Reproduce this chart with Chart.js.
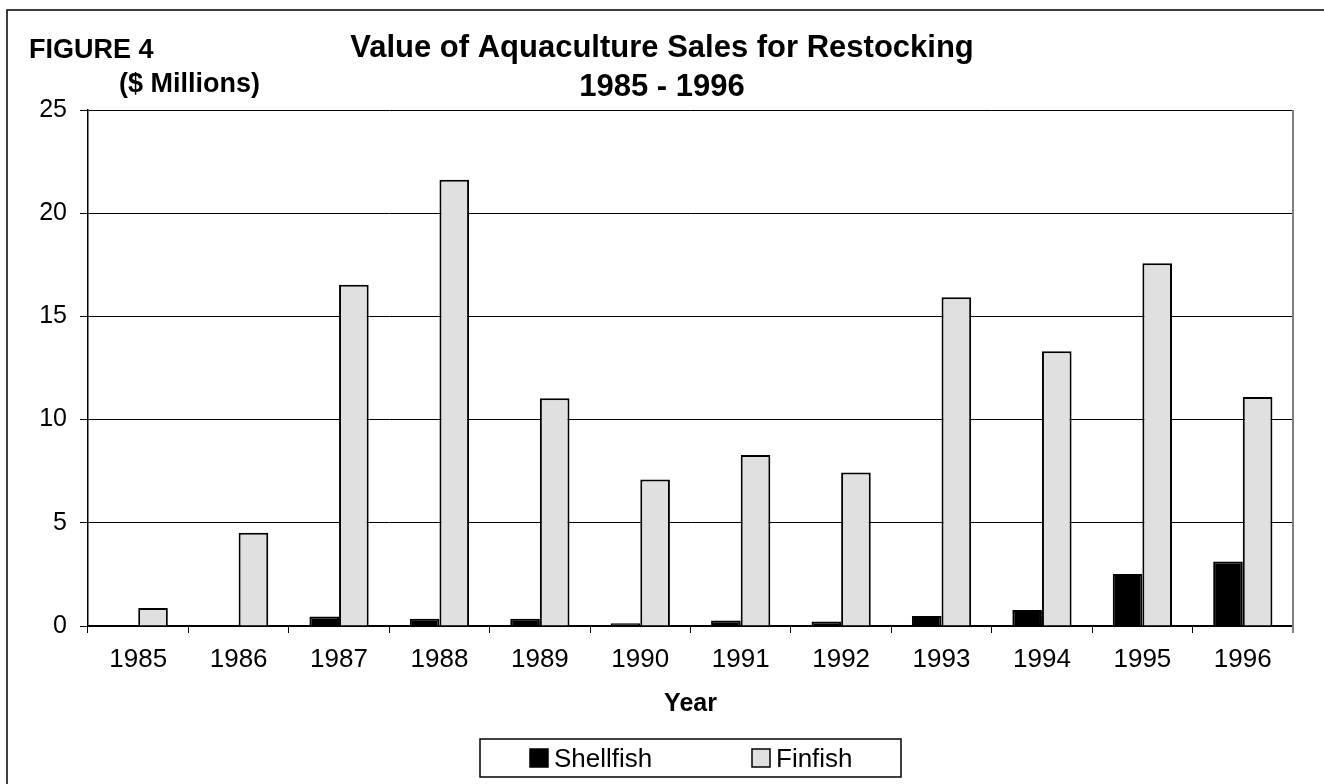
<!DOCTYPE html>
<html>
<head>
<meta charset="utf-8">
<title>Value of Aquaculture Sales for Restocking</title>
<script src="https://cdn.jsdelivr.net/npm/chart.js@4/dist/chart.umd.min.js"></script>
<style>
  html, body { margin: 0; padding: 0; background: #fff; }
  #wrap { width: 1324px; height: 784px; }
</style>
</head>
<body>
<div id="wrap"><canvas id="chart" width="1324" height="784"></canvas></div>
<script>
/* Dados ($ milhões) */
const years = ['1985','1986','1987','1988','1989','1990','1991','1992','1993','1994','1995','1996'];
const shellfish = [0, 0, 0.46, 0.35, 0.35, 0.13, 0.27, 0.22, 0.48, 0.77, 2.52, 3.13];
const finfish = [0.87, 4.52, 16.53, 21.62, 11.04, 7.10, 8.29, 7.44, 15.93, 13.31, 17.58, 11.09];
const yTicks = [0, 5, 10, 15, 20, 25];

const FONT = "'Liberation Sans', Arial, sans-serif";

/* Moldura externa, títulos, borda direita e legenda em caixa */
const decor = {
  id: 'decor',
  beforeDraw(chart) {
    const c = chart.ctx;
    c.save();
    c.fillStyle = '#fff';
    c.fillRect(0, 0, chart.width, chart.height);
    c.strokeStyle = '#000';
    c.lineWidth = 1.5;
    c.beginPath();
    c.moveTo(7, chart.height);
    c.lineTo(7, 10);
    c.lineTo(chart.width, 10);
    c.stroke();
    c.restore();
  },
  afterDraw(chart) {
    const c = chart.ctx;
    const a = chart.chartArea;
    c.save();
    // borda direita da área do gráfico (cinza)
    c.strokeStyle = '#808080';
    c.lineWidth = 2;
    c.beginPath();
    c.moveTo(a.right, a.top);
    c.lineTo(a.right, a.bottom + 7);
    c.stroke();

    c.fillStyle = '#000';
    c.textBaseline = 'alphabetic';
    c.font = 'bold 27px ' + FONT;
    c.textAlign = 'left';
    c.fillText('FIGURE 4', 29, 58);
    c.fillText('($ Millions)', 119, 92);

    c.font = 'bold 31px ' + FONT;
    c.textAlign = 'center';
    c.fillText('Value of Aquaculture Sales for Restocking', 662, 57);
    c.fillText('1985 - 1996', 662, 96);

    // legenda
    const cx = (a.left + a.right) / 2;
    const boxW = 421, boxTop = 739, boxH = 38;
    const bx = Math.round(cx - boxW / 2);
    c.strokeStyle = '#000';
    c.lineWidth = 1.5;
    c.strokeRect(bx, boxTop, boxW, boxH);
    c.font = '26px ' + FONT;
    c.textAlign = 'left';
    const itemX = [bx + 50, bx + 272];
    chart.data.datasets.forEach((ds, i) => {
      const x = itemX[i];
      c.fillStyle = ds.backgroundColor;
      c.fillRect(x, 749, 18, 18);
      c.strokeStyle = '#000';
      c.lineWidth = 1.5;
      c.strokeRect(x, 749, 18, 18);
      c.fillStyle = '#000';
      c.fillText(ds.label, x + 24, 767);
    });
    c.restore();
  }
};

const ctx = document.getElementById('chart').getContext('2d');
new Chart(ctx, {
  type: 'bar',
  data: {
    labels: years,
    datasets: [
      { label: 'Shellfish', data: shellfish, backgroundColor: '#000000', borderColor: '#000', borderWidth: 2 },
      { label: 'Finfish', data: finfish, backgroundColor: '#e0e0e0', borderColor: '#000', borderWidth: 2 }
    ]
  },
  options: {
    responsive: false,
    devicePixelRatio: 1,
    animation: false,
    categoryPercentage: 0.59,
    barPercentage: 1.0,
    layout: { padding: { left: 0, right: 31, top: 110, bottom: 65 } },
    plugins: {
      legend: { display: false },
      title: { display: false },
      tooltip: { enabled: false }
    },
    scales: {
      x: {
        grid: { display: true, drawOnChartArea: false, drawTicks: true, tickLength: 7, color: '#000', offset: true },
        border: { display: true, color: '#000', width: 1.5 },
        ticks: { color: '#000', font: { family: FONT, size: 26 }, padding: 11, maxRotation: 0 },
        title: { display: true, text: 'Year', color: '#000', font: { family: FONT, size: 25, weight: 'bold' }, padding: { top: 4, bottom: 0 } },
        afterFit(scale) { scale.height = 93; }
      },
      y: {
        min: 0,
        max: 25,
        afterBuildTicks(scale) { scale.ticks = yTicks.map(v => ({ value: v })); },
        grid: { color: '#000', lineWidth: 1, tickLength: 8 },
        border: { display: true, color: '#000', width: 1.5 },
        ticks: { color: '#000', font: { family: FONT, size: 25 }, padding: 13 },
        afterFit(scale) { scale.width = 88; }
      }
    }
  },
  plugins: [decor]
});
</script>
</body>
</html>
